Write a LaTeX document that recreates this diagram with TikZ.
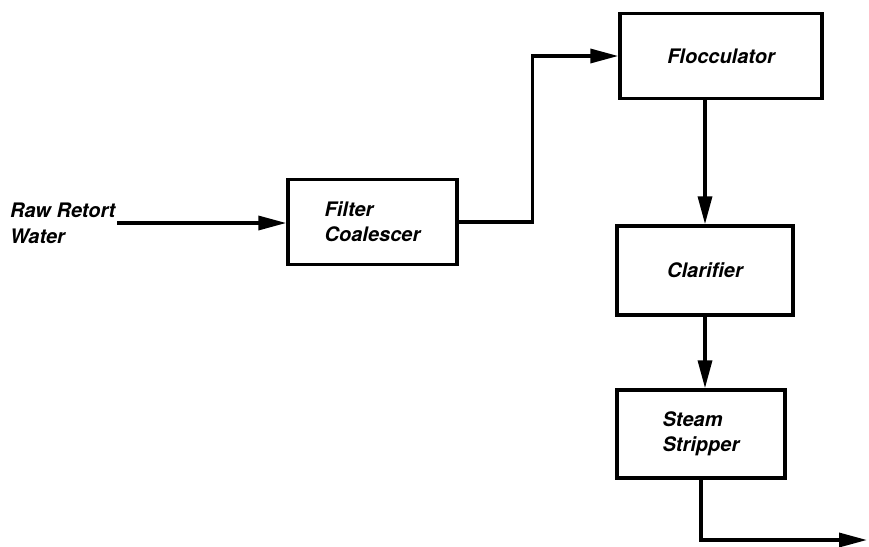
\documentclass[tikz,border=0pt]{standalone}
\usepackage{fontspec}
\setmainfont{TeX Gyre Heros}
\usetikzlibrary{arrows.meta}
\tikzset{
	unit/.style={draw, line width=3.4pt, rectangle, inner sep=0pt, align=left,
		font=\bfseries\itshape\fontsize{20}{25}\selectfont},
	tag/.style={inner sep=0pt, align=left, font=\bfseries\itshape\fontsize{20}{26}\selectfont},
	flow/.style={line width=3.4pt, -{Triangle[length=28pt,width=14pt]}},
}

\begin{document}
\begin{tikzpicture}[x=1pt, y=-1pt]
		%%%%% START %%%%%
		\useasboundingbox (0,0) rectangle (869,546);
		
		\node[tag, anchor=west] (raw) at (10, 223) {Raw Retort\\Water};
		\node[unit, minimum width=169pt, minimum height=85pt] (filter) at (372.5, 222) {Filter\\Coalescer};
		\node[unit, minimum width=202pt, minimum height=85pt] (flocc) at (721, 56) {Flocculator};
		\node[unit, minimum width=176pt, minimum height=89pt] (clar) at (705, 270.5) {Clarifier};
		\node[unit, minimum width=168pt, minimum height=88pt] (strip) at (701, 434) {Steam\\Stripper};
		\coordinate (out) at (867, 540);
		
		\draw[flow] (raw.east) ++(2,0) -- (raw.east -| filter.west);
		\draw[flow] (filter.east) -- ++(74,0) |- (flocc.west);
		\draw[flow] (clar.north |- flocc.south) -- (clar.north);
		\draw[flow] (clar.south) -- (clar.south |- strip.north);
		\draw[flow] (strip.south) |- (out);
		
		%%%%% END %%%%%
\end{tikzpicture}
\end{document}
